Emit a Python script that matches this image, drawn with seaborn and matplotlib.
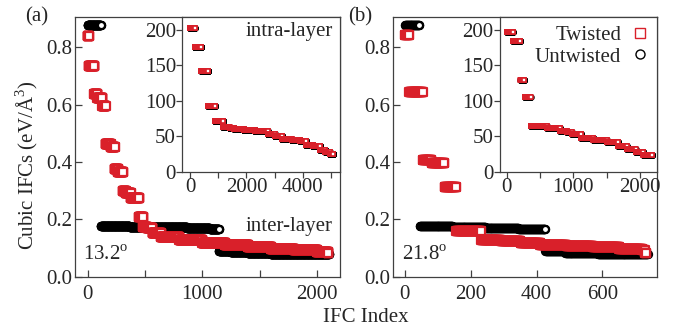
import numpy as np
import pandas as pd
import matplotlib
matplotlib.use("Agg")
import matplotlib.pyplot as plt
from matplotlib.lines import Line2D
import seaborn as sns

# sorted cubic IFCs, stored as (value, number of degenerate IFCs) groups
# (a) 13.2 deg -- main panel, eV/A^3
a_untw_vals = [0.876, 0.176, 0.174, 0.172, 0.169, 0.166, 0.089, 0.085, 0.082, 0.080, 0.079]
a_untw_cnts = [116, 250, 250, 250, 200, 80, 100, 150, 200, 300, 210]
a_tw_vals = [0.838, 0.735, 0.636, 0.624, 0.595, 0.462, 0.453, 0.375, 0.364, 0.300, 0.293,
             0.275, 0.207, 0.174, 0.169, 0.152, 0.140, 0.128, 0.118, 0.110, 0.103, 0.098,
             0.092, 0.086, 0.082]
a_tw_cnts = [12, 47, 27, 43, 29, 44, 35, 29, 43, 24, 44, 72, 35, 36, 46, 75, 160, 200, 200,
             200, 200, 200, 200, 95, 5]

# (a) inset: intra-layer IFCs (twisted and untwisted overlap)
ins_a_vals = [202, 176, 142, 93, 72, 63, 62, 60, 59, 57.5, 53, 51, 47, 45, 43, 38, 36, 31, 28, 25.6]
ins_a_cnts = [161, 240, 240, 240, 290, 230, 168, 332, 400, 450, 250, 257, 343, 300, 207, 243,
              262, 188, 150, 138]

# (b) 21.8 deg -- main panel
b_untw_vals = [0.876, 0.177, 0.174, 0.171, 0.167, 0.088, 0.083, 0.080, 0.079]
b_untw_cnts = [45, 100, 100, 100, 82, 60, 100, 100, 51]
b_tw_vals = [0.843, 0.642, 0.407, 0.395, 0.314, 0.160, 0.127, 0.123, 0.119, 0.110, 0.106,
             0.102, 0.098, 0.093, 0.084]
b_tw_cnts = [13, 42, 26, 40, 35, 76, 60, 60, 59, 80, 80, 80, 70, 8, 5]

# (b) inset
ins_b_vals = [197, 184, 130, 106, 64, 62.5, 58, 56, 54, 47.5, 45, 42, 36, 33, 28, 24]
ins_b_cnts = [92, 115, 61, 91, 242, 197, 103, 74, 141, 185, 200, 171, 129, 133, 117, 136]

RED = "#d9202a"
BLACK = "#000000"
SPINE = "#404040"


def expand(vals, cnts):
    y = np.repeat(vals, cnts)
    return pd.DataFrame({"idx": np.arange(len(y)), "ifc": y})


sns.set_style("ticks")
plt.rcParams["font.family"] = ["Liberation Serif", "DejaVu Serif"]
plt.rcParams["mathtext.fontset"] = "custom"
plt.rcParams["mathtext.rm"] = "Liberation Serif"
plt.rcParams["font.size"] = 15

fig = plt.figure(figsize=(6.81, 3.31), dpi=100)
ax_a = fig.add_axes([0.1101, 0.164, 0.389, 0.7846])
ax_b = fig.add_axes([0.5767, 0.164, 0.3877, 0.7846])
ins_a = fig.add_axes([0.2677, 0.4804, 0.2316, 0.4683])
ins_b = fig.add_axes([0.7342, 0.4804, 0.2301, 0.4683])


def draw(ax, untw, tw, s, lw):
    sns.scatterplot(data=untw, x="idx", y="ifc", marker="o", s=s, facecolor="white",
                    edgecolor=BLACK, linewidth=lw, ax=ax)
    sns.scatterplot(data=tw, x="idx", y="ifc", marker="s", s=s, facecolor="white",
                    edgecolor=RED, linewidth=lw, ax=ax)
    ax.set_xlabel("")
    ax.set_ylabel("")
    for sp in ax.spines.values():
        sp.set_visible(True)
        sp.set_color(SPINE)
        sp.set_linewidth(0.9)


draw(ax_a, expand(a_untw_vals, a_untw_cnts), expand(a_tw_vals, a_tw_cnts), 26, 1.6)
draw(ax_b, expand(b_untw_vals, b_untw_cnts), expand(b_tw_vals, b_tw_cnts), 26, 1.6)
draw(ins_a, expand(ins_a_vals, ins_a_cnts), expand(ins_a_vals, ins_a_cnts), 12, 1.2)
draw(ins_b, expand(ins_b_vals, ins_b_cnts), expand(ins_b_vals, ins_b_cnts), 12, 1.2)

# main axes
for ax in (ax_a, ax_b):
    ax.set_ylim(0, 0.905)
    ax.set_yticks([0, 0.2, 0.4, 0.6, 0.8])
    ax.set_yticklabels(["0.0", "0.2", "0.4", "0.6", "0.8"])
    ax.tick_params(direction="in", length=5, width=0.9, color=SPINE, labelsize=15)
    ax.tick_params(axis="x", pad=6)
    ax.tick_params(axis="y", pad=2)

ax_a.set_xlim(-110, 2200)
ax_a.set_xticks([0, 500, 1000, 1500, 2000])
ax_a.set_xticklabels(["0", "", "1000", "", "2000"])
ax_b.set_xlim(-37, 765)
ax_b.set_xticks([0, 200, 400, 600])

# insets
for ax in (ins_a, ins_b):
    ax.set_ylim(0, 218)
    ax.set_yticks([0, 50, 100, 150, 200])
    ax.tick_params(direction="out", length=4, width=0.9, color=SPINE, labelsize=15, pad=0.5)

ins_a.set_xlim(-275, 5320)
ins_a.set_xticks([0, 1000, 2000, 3000, 4000, 5000])
ins_a.set_xticklabels(["0", "", "2000", "", "4000", ""])
ins_b.set_xlim(-100, 2250)
ins_b.set_xticks([0, 500, 1000, 1500, 2000])
ins_b.set_xticklabels(["0", "", "1000", "", "2000"])

handles = [
    Line2D([], [], ls="none", marker="s", ms=6.5, mfc="white", mec=RED, mew=1.0),
    Line2D([], [], ls="none", marker="o", ms=6.5, mfc="white", mec=BLACK, mew=1.0),
]
ins_b.legend(handles, ["Twisted", "Untwisted"], loc="upper right", markerfirst=False,
             frameon=False, handlelength=0.8, handletextpad=0.5, labelspacing=0.1,
             borderaxespad=0.2, borderpad=0.2, fontsize=15)

# annotations
ax_a.text(0.03, 0.083, "13.2$^{\\rm o}$", transform=ax_a.transAxes, ha="left", va="center")
ax_b.text(0.034, 0.083, "21.8$^{\\rm o}$", transform=ax_b.transAxes, ha="left", va="center")
ins_a.text(0.955, 0.905, "intra-layer", transform=ins_a.transAxes, ha="right", va="center")
ax_a.text(0.974, 0.195, "inter-layer", transform=ax_a.transAxes, ha="right", va="center")

fig.text(25 / 681, 1 - 17 / 331, "(a)", ha="left", va="center")
fig.text(348 / 681, 1 - 17 / 331, "(b)", ha="left", va="center")
fig.text(366 / 681, 1 - 318 / 331, "IFC Index", ha="center", va="center")
fig.text(27 / 681, 1 - 165 / 331, "Cubic IFCs (eV/Å$^3$)", rotation=90, ha="center", va="center")

fig.savefig("out.png", dpi=100)
